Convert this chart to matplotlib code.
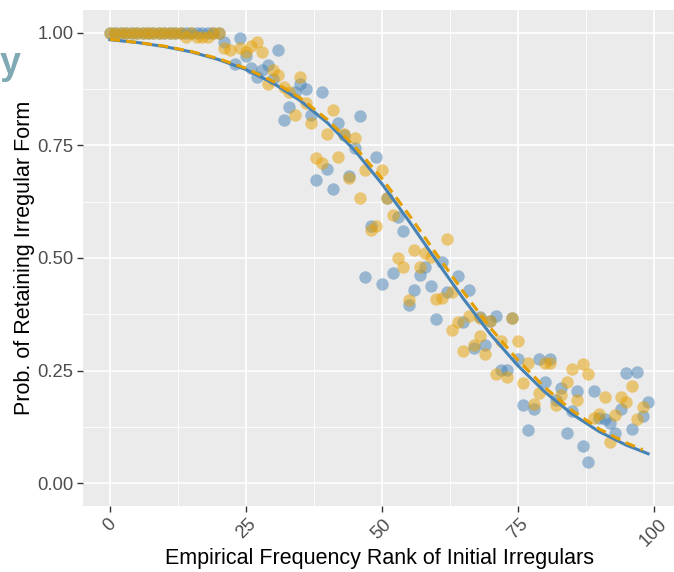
import numpy as np
import matplotlib
matplotlib.use('Agg')
import matplotlib.pyplot as plt
from matplotlib.ticker import MultipleLocator

plt.rcParams['font.family'] = ['Liberation Sans', 'DejaVu Sans']

# scatter points: rank, proportion retained
blue_rank = list(range(0, 22)) + [23, 24, 25, 26, 27, 28, 29, 30, 31, 32, 33, 34, 35, 36, 37, 38,
                                  39, 40, 41, 42, 43, 44, 45, 46, 47, 48, 49, 50, 51, 52, 53, 54,
                                  55, 56, 57, 58, 59, 60, 61, 62, 64, 65, 66, 67, 68, 69, 70, 71,
                                  72, 73, 74, 75, 76, 77, 78, 79, 80, 81, 82, 83, 84, 85, 86, 87,
                                  88, 89, 90, 91, 92, 93, 94, 95, 96, 97, 98, 99]
blue_prop = [1.0] * 21 + [0.98, 0.93, 0.987, 0.947, 0.922, 0.902, 0.916, 0.927, 0.898, 0.962,
                          0.805, 0.834, 0.869, 0.885, 0.874, 0.818, 0.672, 0.869, 0.698, 0.652,
                          0.800, 0.772, 0.681, 0.743, 0.816, 0.457, 0.572, 0.725, 0.443, 0.632,
                          0.466, 0.592, 0.559, 0.395, 0.428, 0.463, 0.479, 0.439, 0.364, 0.492,
                          0.424, 0.459, 0.357, 0.430, 0.301, 0.370, 0.308, 0.360, 0.372, 0.251,
                          0.251, 0.366, 0.277, 0.173, 0.118, 0.166, 0.277, 0.226, 0.277, 0.186,
                          0.211, 0.111, 0.160, 0.204, 0.082, 0.047, 0.204, 0.146, 0.144, 0.135,
                          0.113, 0.166, 0.246, 0.120, 0.248, 0.149, 0.180]

orange_rank = list(range(0, 23)) + [24, 25, 26, 27, 28, 29, 30, 31, 32, 33, 34, 35, 36, 37, 38,
                                    39, 40, 41, 42, 43, 44, 45, 46, 47, 48, 49, 50, 51, 52, 53,
                                    54, 55, 56, 57, 58, 59, 60, 61, 62, 63, 63, 64, 65, 66, 67,
                                    68, 68, 69, 70, 71, 72, 73, 74, 75, 76, 77, 78, 79, 80, 81,
                                    82, 83, 84, 85, 86, 87, 88, 89, 90, 91, 92, 93, 94, 95, 96,
                                    97, 98]
orange_prop = ([1.0] * 14 + [0.99, 1.0, 0.99, 0.99, 0.99, 1.0, 1.0]
               + [0.965, 0.962, 0.965, 0.956, 0.971, 0.978, 0.956, 0.885, 0.916, 0.905, 0.880,
                  0.869, 0.818, 0.902, 0.843, 0.800, 0.721, 0.710, 0.774, 0.829, 0.723, 0.776,
                  0.678, 0.767, 0.632, 0.696, 0.563, 0.572, 0.696, 0.632, 0.596, 0.499, 0.481,
                  0.406, 0.517, 0.479, 0.510, 0.503, 0.408, 0.412, 0.543, 0.424, 0.341, 0.357,
                  0.293, 0.372, 0.308, 0.326, 0.366, 0.288, 0.360, 0.242, 0.315, 0.237, 0.366,
                  0.317, 0.222, 0.268, 0.177, 0.200, 0.268, 0.268, 0.173, 0.197, 0.226, 0.253,
                  0.186, 0.264, 0.242, 0.146, 0.153, 0.191, 0.091, 0.151, 0.191, 0.180, 0.217,
                  0.142, 0.169])

# fitted curves, read at every 5 ranks
fit_rank_blue = [0, 5, 10, 15, 20, 25, 30, 35, 40, 45, 50, 55, 60, 65, 70, 75, 80, 85, 90, 95, 99]
fit_blue = [0.984, 0.978, 0.969, 0.957, 0.940, 0.918, 0.888, 0.849, 0.800, 0.739, 0.665,
            0.582, 0.495, 0.410, 0.331, 0.262, 0.203, 0.154, 0.115, 0.085, 0.066]
fit_rank_orange = [0, 5, 10, 15, 20, 25, 30, 35, 40, 45, 50, 55, 60, 65, 70, 75, 80, 85, 90, 95, 98]
fit_orange = [0.985, 0.978, 0.970, 0.958, 0.942, 0.921, 0.892, 0.855, 0.807, 0.748, 0.677,
              0.596, 0.510, 0.425, 0.345, 0.274, 0.213, 0.162, 0.121, 0.090, 0.075]

BLUE = '#4682B4'
ORANGE = '#E69F00'

fig = plt.figure(figsize=(6.74, 5.72), dpi=100)
ax = fig.add_axes([83 / 674, 66 / 572, 592 / 674, 496 / 572])
ax.set_facecolor('#EBEBEB')

ax.scatter(blue_rank, blue_prop, s=80, color=BLUE, alpha=0.5, linewidths=0, zorder=3)
ax.scatter(orange_rank, orange_prop, s=80, color=ORANGE, alpha=0.5, linewidths=0, zorder=3)
ax.plot(fit_rank_blue, fit_blue, color=BLUE, lw=2.2, zorder=4)
ax.plot(fit_rank_orange, fit_orange, color=ORANGE, lw=2.2, ls=(0, (3.3, 2)), zorder=5)

ax.set_xlim(-4.95, 103.95)
ax.set_ylim(-0.05, 1.05)
ax.xaxis.set_major_locator(MultipleLocator(25))
ax.xaxis.set_minor_locator(MultipleLocator(12.5))
ax.yaxis.set_minor_locator(MultipleLocator(0.125))
ax.set_yticks([0, 0.25, 0.5, 0.75, 1.0])
ax.set_yticklabels(['0.00', '0.25', '0.50', '0.75', '1.00'])
ax.grid(which='major', color='white', lw=1.2)
ax.grid(which='minor', color='white', lw=0.6)
ax.set_axisbelow(True)
for sp in ax.spines.values():
    sp.set_visible(False)

ax.tick_params(which='major', length=4, width=1.0, color='#333333',
               labelcolor='#4D4D4D', labelsize=13.3, pad=3)
ax.tick_params(which='minor', length=0)
plt.setp(ax.get_xticklabels(), rotation=45, ha='center', va='top')

ax.set_xlabel('Empirical Frequency Rank of Initial Irregulars', fontsize=15.5, va='top')
ax.xaxis.set_label_coords(0.5, (24 - 66) / 496)
ax.set_ylabel('Prob. of Retaining Irregular Form', fontsize=15.5)
ax.yaxis.set_label_coords((35 - 83) / 592, 0.5)

fig.text(0.0, 1 - 74 / 572, 'y', fontsize=27, fontweight='bold', color='#7FA9B3',
         ha='left', va='baseline')

fig.savefig('out.png', dpi=100)
